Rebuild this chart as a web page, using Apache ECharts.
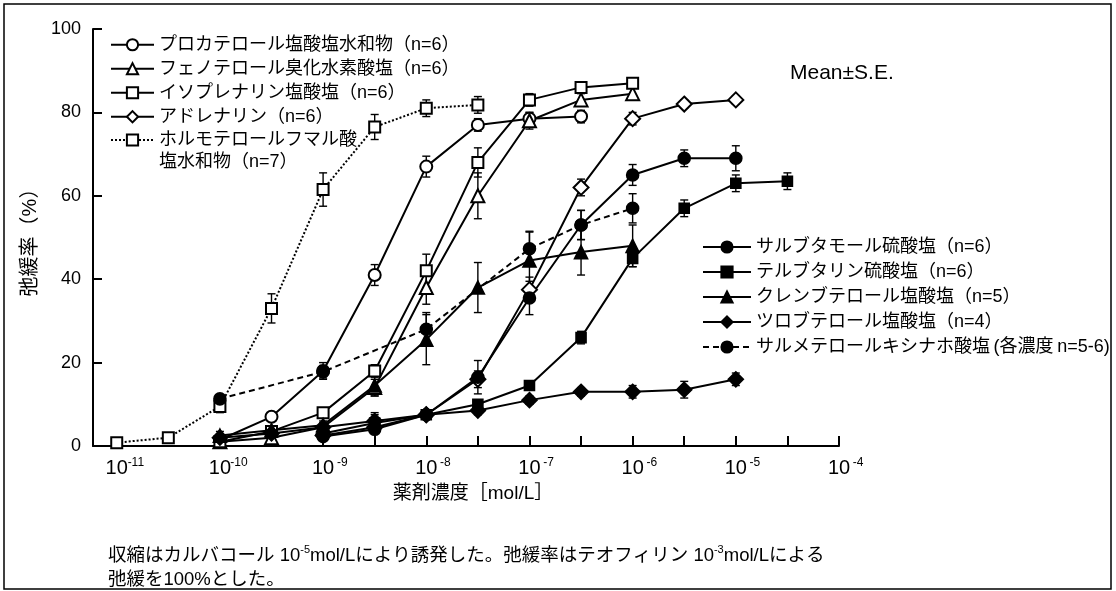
<!DOCTYPE html>
<html><head><meta charset="utf-8">
<script src="https://cdn.jsdelivr.net/npm/echarts@6/dist/echarts.min.js"></script>
<style>html,body{margin:0;padding:0;background:#fff}#c{width:1116px;height:591px}</style>
</head><body><div id="c"></div>
<script>
// x values are log10 of concentration [mol/L]
const procaterolX = [-10, -9.5, -9, -8.5, -8, -7.5, -7, -6.5];
const procaterolY = [1.5, 7, 18, 41, 67, 77, 78.5, 79];
const procaterolSE = [0.5, 0.8, 2, 2.5, 2.5, 1.5, 1.5, 1.5];

const fenoterolX = [-10, -9.5, -9, -8.5, -8, -7.5, -7, -6.5, -6];
const fenoterolY = [1, 2, 4.5, 14, 38, 60, 78, 83, 84.5];
const fenoterolSE = [0.5, 1, 1, 2, 4, 5.5, 2, 1.5, 1.5];

const isoprenalineX = [-10, -9.5, -9, -8.5, -8, -7.5, -7, -6.5, -6];
const isoprenalineY = [1, 3.5, 8, 18, 42, 68, 83, 86, 87];
const isoprenalineSE = [0.5, 0.5, 0.8, 1.5, 4, 3.5, 1.5, 1, 1];

const adrenalineX = [-9, -8.5, -8, -7.5, -7, -6.5, -6, -5.5, -5];
const adrenalineY = [2.5, 4.5, 7.5, 16, 37.5, 62, 78.5, 82, 83];
const adrenalineSE = [0.5, 0.8, 1, 2, 3, 2, 1.5, 1, 1];

const formoterolX = [-11, -10.5, -10, -9.5, -9, -8.5, -8, -7.5];
const formoterolY = [0.8, 2, 9.5, 33, 61.5, 76.5, 81, 81.8];
const formoterolSE = [0.3, 0.3, 1.5, 3.5, 4, 3, 2, 2];

const salbutamolX = [-9, -8.5, -8, -7.5, -7, -6.5, -6, -5.5, -5];
const salbutamolY = [2.3, 4, 7.5, 16.5, 35.5, 53, 65, 69, 69];
const salbutamolSE = [0.8, 4, 1, 4, 4, 3.5, 2.5, 2, 3];

const terbutalineX = [-9, -8.5, -8, -7.5, -7, -6.5, -6, -5.5, -5, -4.5];
const terbutalineY = [3, 5.5, 7.5, 10, 14.5, 26, 45, 57, 63, 63.5];
const terbutalineSE = [0.5, 1, 1, 1, 1, 1.5, 2, 2, 2, 2];

const clenbuterolX = [-10, -9.5, -9, -8.5, -8, -7.5, -7, -6.5, -6];
const clenbuterolY = [2.5, 3.8, 5, 14.5, 25.5, 38, 44.5, 46.5, 48];
const clenbuterolSE = [1, 1, 1, 2.5, 6, 6, 7, 5.5, 5];

const tulobuterolX = [-10, -9.5, -9, -8.5, -8, -7.5, -7, -6.5, -6, -5.5, -5];
const tulobuterolY = [2, 3, 4.5, 6, 7.5, 8.5, 11, 13, 13, 13.5, 16];
const tulobuterolSE = [0.5, 0.5, 1, 1.5, 0.8, 1, 1, 1, 1.5, 2, 1.5];

const salmeterolX = [-10, -9, -8, -7, -6.5, -6];
const salmeterolY = [11.3, 17.8, 28, 47.3, 53, 57];
const salmeterolSE = [1, 1.5, 4, 4, 3.5, 3.5];

const xLabelExps = [-11, -10, -9, -8, -7, -6, -5, -4];
const xTickExps = [-10, -9.5, -9, -8.5, -8, -7.5, -7, -6.5, -6, -5.5, -5, -4.5, -4];

const names = {
  pro: 'プロカテロール塩酸塩水和物（n=6）',
  fen: 'フェノテロール臭化水素酸塩（n=6）',
  iso: 'イソプレナリン塩酸塩（n=6）',
  adr: 'アドレナリン（n=6）',
  for: 'ホルモテロールフマル酸塩水和物（n=7）',
  sal: 'サルブタモール硫酸塩（n=6）',
  ter: 'テルブタリン硫酸塩（n=6）',
  cle: 'クレンブテロール塩酸塩（n=5）',
  tul: 'ツロブテロール塩酸塩（n=4）',
  sme: 'サルメテロールキシナホ酸塩\u2009(各濃度\u2009n=5-6)'
};

const FONT = '"Liberation Sans", "Noto Sans CJK JP", sans-serif';

const defs = [
  {n: names.pro, x: procaterolX, y: procaterolY, e: procaterolSE, sym: 'emptyCircle', size: 12, line: 'solid'},
  {n: names.fen, x: fenoterolX, y: fenoterolY, e: fenoterolSE, sym: 'emptyTriangle', size: 13, line: 'solid'},
  {n: names.iso, x: isoprenalineX, y: isoprenalineY, e: isoprenalineSE, sym: 'emptyRect', size: 11, line: 'solid'},
  {n: names.adr, x: adrenalineX, y: adrenalineY, e: adrenalineSE, sym: 'emptyDiamond', size: 15, line: 'solid'},
  {n: names.for, x: formoterolX, y: formoterolY, e: formoterolSE, sym: 'emptyRect', size: 11, line: 'dotted'},
  {n: names.sal, x: salbutamolX, y: salbutamolY, e: salbutamolSE, sym: 'circle', size: 12, line: 'solid'},
  {n: names.ter, x: terbutalineX, y: terbutalineY, e: terbutalineSE, sym: 'rect', size: 10, line: 'solid'},
  {n: names.cle, x: clenbuterolX, y: clenbuterolY, e: clenbuterolSE, sym: 'triangle', size: 13, line: 'solid'},
  {n: names.tul, x: tulobuterolX, y: tulobuterolY, e: tulobuterolSE, sym: 'diamond', size: 15, line: 'solid'},
  {n: names.sme, x: salmeterolX, y: salmeterolY, e: salmeterolSE, sym: 'circle', size: 12, line: [6, 4]}
];

function renderErr(params, api) {
  const x = api.value(0), lo = api.value(1), hi = api.value(2);
  const p1 = api.coord([x, hi]);
  const p2 = api.coord([x, lo]);
  const w = 4;
  const st = {stroke: '#000', lineWidth: 1.4};
  return {type: 'group', children: [
    {type: 'line', shape: {x1: p1[0], y1: p1[1], x2: p2[0], y2: p2[1]}, style: st},
    {type: 'line', shape: {x1: p1[0] - w, y1: p1[1], x2: p1[0] + w, y2: p1[1]}, style: st},
    {type: 'line', shape: {x1: p2[0] - w, y1: p2[1], x2: p2[0] + w, y2: p2[1]}, style: st}
  ]};
}

const series = [];
defs.forEach(d => {
  series.push({
    type: 'custom', name: d.n + '_err', renderItem: renderErr, z: 1, silent: true,
    data: d.x.map((xv, i) => [xv, d.y[i] - d.e[i], d.y[i] + d.e[i]])
  });
});
defs.forEach(d => {
  series.push({
    type: 'line', name: d.n, z: 3,
    data: d.x.map((xv, i) => [xv, d.y[i]]),
    symbol: d.sym, symbolSize: d.size,
    showAllSymbol: true,
    lineStyle: {color: '#000', width: 2, type: d.line},
    itemStyle: {color: '#000', borderColor: '#000', borderWidth: 1.6},
    emphasis: {disabled: true}
  });
});

const legendText = {fontSize: 18, fontFamily: FONT, color: '#000', lineHeight: 20};

const supRich = {
  b: {fontSize: 20, fontFamily: FONT, color: '#000', lineHeight: 22},
  s: {fontSize: 12, fontFamily: FONT, color: '#000', lineHeight: 12, verticalAlign: 'top', width: 16, align: 'left'},
  pad: {width: 16, fontSize: 12}
};

const option = {
  animation: false,
  backgroundColor: '#fff',
  grid: {left: 93, right: 277, top: 29, bottom: 145, containLabel: false},
  xAxis: {
    type: 'value', min: -11.23, max: -4,
    name: '薬剤濃度［mol/L］', nameLocation: 'middle', nameGap: 38,
    nameTextStyle: {fontSize: 19, fontFamily: FONT, color: '#000', padding: [0, 0, 0, 14]},
    axisLine: {lineStyle: {color: '#000', width: 2}},
    axisTick: {inside: true, length: 10, lineStyle: {color: '#000', width: 2}, customValues: xTickExps},
    axisLabel: {
      customValues: xLabelExps, margin: 11,
      formatter: v => '{pad|}{b|10}{s|' + String(v) + '}',
      rich: supRich
    },
    splitLine: {show: false}
  },
  yAxis: {
    type: 'value', min: 0, max: 100, interval: 20,
    name: '弛緩率（%）', nameLocation: 'middle', nameGap: 45, nameRotate: 90,
    nameTextStyle: {fontSize: 20, fontFamily: FONT, color: '#000'},
    axisLine: {show: true, lineStyle: {color: '#000', width: 2}},
    axisTick: {show: true, inside: true, length: 9, lineStyle: {color: '#000', width: 2}},
    axisLabel: {fontSize: 18, fontFamily: FONT, color: '#000', margin: 12},
    splitLine: {show: false}
  },
  legend: [
    {
      orient: 'vertical', left: 110, top: 34.5, padding: 0, itemGap: 3.5,
      itemWidth: 43, itemHeight: 14, selectedMode: false,
      data: [names.pro, names.fen, names.iso, names.adr],
      textStyle: {fontSize: 18, fontFamily: FONT, color: '#000', lineHeight: 20.5}
    },
    {
      orient: 'vertical', left: 110, top: 107, padding: 0,
      itemWidth: 43, itemHeight: 14, selectedMode: false,
      data: [names.for],
      formatter: () => ' \nホルモテロールフマル酸\n塩水和物（n=7）',
      textStyle: {fontSize: 18, fontFamily: FONT, color: '#000', lineHeight: 22}
    },
    {
      orient: 'vertical', left: 702, top: 237, padding: 0, itemGap: 5,
      itemWidth: 48, itemHeight: 14, selectedMode: false,
      data: [names.sal, names.ter, names.cle, names.tul, names.sme],
      textStyle: legendText
    }
  ],
  graphic: [
    {type: 'rect', shape: {x: 4, y: 4, width: 1107, height: 585}, style: {fill: 'none', stroke: '#000', lineWidth: 1.5}, silent: true, z: 0},
    {type: 'text', left: 790, top: 63, style: {text: 'Mean±S.E.', font: '21px "Liberation Sans", sans-serif', fill: '#000'}},
    {type: 'text', left: 108, top: 544, style: {
      text: '収縮はカルバコール 10{s|-5}mol/Lにより誘発した。弛緩率はテオフィリン 10{s|-3}mol/Lによる',
      fontSize: 18.5, fontFamily: FONT, fill: '#000', lineHeight: 23,
      rich: {s: {fontSize: 11, fontFamily: FONT, fill: '#000', lineHeight: 11, verticalAlign: 'top'}}
    }},
    {type: 'text', left: 108, top: 568, style: {text: '弛緩を100%とした。', fontSize: 18.5, fontFamily: FONT, fill: '#000', lineHeight: 23}}
  ],
  series: series
};

const chart = echarts.init(document.getElementById('c'), null, {renderer: 'canvas'});
chart.setOption(option);
</script>
</body></html>
